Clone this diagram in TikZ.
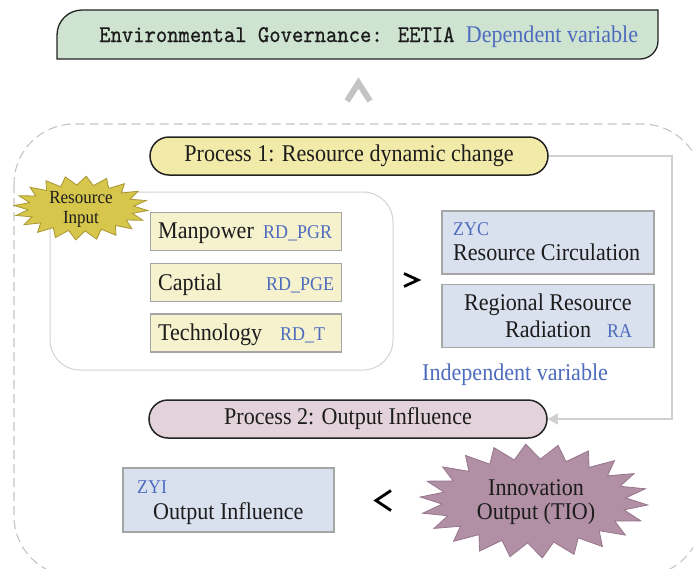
\documentclass[tikz,border=0pt]{standalone}
\usepackage{fontspec}
\setmainfont{Liberation Serif}[FakeStretch=0.92]
\newfontfamily\bannermono{lmmono10-regular}[Extension=.otf, FakeStretch=0.9, FakeBold=0.8]
\usetikzlibrary{arrows.meta}

\definecolor{ink}{RGB}{28,28,28}
\definecolor{bannerfill}{RGB}{207,227,209}
\definecolor{pilledge}{RGB}{35,35,35}
\definecolor{p1fill}{RGB}{242,234,168}
\definecolor{p2fill}{RGB}{227,210,218}
\definecolor{inboxfill}{RGB}{246,242,206}
\definecolor{outboxfill}{RGB}{218,225,238}
\definecolor{boxedge}{RGB}{165,165,165}
\definecolor{labelblue}{RGB}{78,108,190}
\definecolor{staryellow}{RGB}{214,198,76}
\definecolor{staryellowedge}{RGB}{168,150,50}
\definecolor{starmauve}{RGB}{177,143,165}
\definecolor{starmauveedge}{RGB}{150,118,140}
\definecolor{linegray}{RGB}{208,208,208}
\definecolor{dashgray}{RGB}{196,196,196}

\newcommand\setfs[1]{\fontsize{#1}{#1}\selectfont}

\tikzset{
  pill/.style={draw=pilledge, line width=1.5pt, rounded corners=19pt,
    minimum width=398pt, minimum height=38pt, inner sep=0pt,
    font=\setfs{24}, text=ink},
  leftbox/.style={draw=boxedge, line width=1.6pt, fill=inboxfill,
    minimum width=191pt, minimum height=38pt, inner sep=0pt},
  rightbox/.style={draw=boxedge, line width=1.6pt, fill=outboxfill,
    minimum width=212pt, minimum height=63pt, inner sep=0pt},
  txt/.style={inner sep=0pt, anchor=base west, font=\setfs{24}, text=ink},
  lbl/.style={inner sep=0pt, anchor=base west, font=\setfs{19.5}, text=labelblue},
  conn/.style={draw=linegray, line width=1.3pt,
    -{Triangle[length=10pt,width=11pt,fill=linegray]}},
  symb/.style={draw=black, line width=2.8pt, line join=miter},
}

\begin{document}
\begin{tikzpicture}[x=1pt,y=-1pt]
\useasboundingbox (0,0) rectangle (693,568);

% outer dashed frame
\draw[draw=dashgray, line width=1.1pt, dash pattern=on 9pt off 5pt,
  rounded corners=60pt] (14,124) rectangle (702,576);

% dependent variable banner
\draw[fill=bannerfill, draw=pilledge, line width=1.3pt]
  (57,59) -- (57,35) .. controls (57,21.2) and (68.2,10) .. (82,10)
  -- (658,10) -- (658,41) .. controls (658,50.9) and (649.9,59) .. (640,59)
  -- cycle;
\node[anchor=base west, inner sep=0pt, text=ink] (gov) at (99,42)
  {{\bannermono\setfs{24}Environmental Governance: EETIA\ }{\setfs{24}\color{labelblue}Dependent variable}};

% upward chevron
\draw[draw=dashgray, line width=6pt, line join=miter] (347,101) -- (358.5,83) -- (370,101);

% frame around the input group
\draw[draw=gray!35, line width=1pt, rounded corners=30pt] (50,192) rectangle (393,370);

% process pills and the loop between them
\node[pill, fill=p1fill] (p1) at (349,156) {Process 1: Resource dynamic change};
\node[pill, fill=p2fill] (p2) at (348,419) {Process 2: Output Influence};
\coordinate (turn) at (672,156);
\draw[conn] (p1.east) -- (turn) |- (p2.east);

% resource input boxes
\node[leftbox] (man) at (246,231.5) {};
\node[leftbox] (cap) at (246,282.5) {};
\node[leftbox] (tech) at (246,333) {};
\node[txt] (mant) at (158,238.5) {Manpower};
\node[lbl] (manl) at (263,238.5) {RD\_PGR};
\node[txt] (capt) at (158,290) {Captial};
\node[lbl] (capl) at (266,290) {RD\_PGE};
\node[txt] (techt) at (158,340.5) {Technology};
\node[lbl] (techl) at (280,340.5) {RD\_T};

% resource input starburst
\draw[fill=staryellow, draw=staryellowedge, line width=0.8pt]
  plot[samples at={0,...,39}]
  ({81 + ifthenelse(mod(\x,2)==0,67,53)*cos(\x*9+4.5)},
   {208 + ifthenelse(mod(\x,2)==0,32,23)*sin(\x*9+4.5)}) -- cycle;
\node[align=center, inner sep=0pt, text=ink, font=\fontsize{18.5}{20}\selectfont]
  (resin) at (81,209) {Resource\\Input};

% greater-than sign
\draw[symb] (404,273.5) -- (418,280) -- (404,286.5);

% independent variables
\node[rightbox] (zyc) at (548,242.5) {};
\node[rightbox] (rra) at (548,316) {};
\node[lbl] (zycl) at (453,235) {ZYC};
\node[txt] (zyct) at (453,260) {Resource Circulation};
\node[txt] (rrat) at (464,310) {Regional Resource};
\node[txt] (radt) at (505,337) {Radiation};
\node[lbl] (ral) at (607,337) {RA};
\node[lbl, font=\setfs{24}] (indep) at (422,380) {Independent variable};

% output influence
\node[rightbox, minimum width=211pt, minimum height=64pt] (zyi) at (228.5,500) {};
\node[lbl] (zyil) at (137,493) {ZYI};
\node[txt] (zyit) at (153,519) {Output Influence};

% less-than sign
\draw[symb] (391,490.5) -- (376,500.5) -- (391,510.5);

% innovation output starburst
\draw[fill=starmauve, draw=starmauveedge, line width=0.8pt]
  plot[samples at={0,...,43}]
  ({534 + ifthenelse(mod(\x,2)==0,114,92)*cos(\x*360/44+4)},
   {501 + ifthenelse(mod(\x,2)==0,57,42)*sin(\x*360/44+4)}) -- cycle;
\node[align=center, inner sep=0pt, text=ink, font=\fontsize{24}{24}\selectfont]
  (tio) at (536,502) {Innovation\\Output (TIO)};

\end{tikzpicture}
\end{document}
